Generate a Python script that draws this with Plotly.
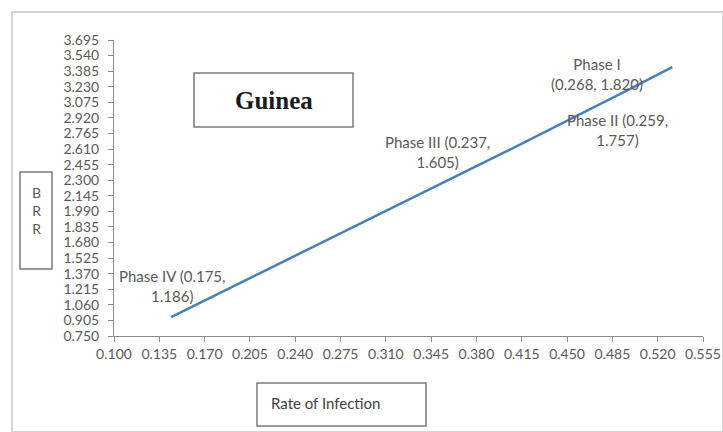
import plotly.graph_objects as go

# Phase data: rate of infection vs BRR
phases = ["Phase IV", "Phase III", "Phase II", "Phase I"]
rate = [0.175, 0.237, 0.259, 0.268]
brr = [1.186, 1.605, 1.757, 1.820]

x_ticks = ["0.100", "0.135", "0.170", "0.205", "0.240", "0.275", "0.310", "0.345",
           "0.380", "0.415", "0.450", "0.485", "0.520", "0.555"]
y_ticks = ["0.750", "0.905", "1.060", "1.215", "1.370", "1.525", "1.680", "1.835",
           "1.990", "2.145", "2.300", "2.455", "2.610", "2.765", "2.920", "3.075",
           "3.230", "3.385", "3.540", "3.695"]

W, H = 723, 432
ML, MR, MT, MB = 114, 20, 40, 96
PW, PH = W - ML - MR, H - MT - MB


def px(x):
    return (x - ML) / PW


def py(y):
    return (H - MB - y) / PH


TXT = "#595959"
FONT = "Lato"

fig = go.Figure()
# empty trace so the visible axis pair is drawn
fig.add_trace(go.Scatter(x=[], y=[], mode="lines", showlegend=False, hoverinfo="skip"))
fig.add_trace(go.Scatter(
    x=rate, y=brr, mode="lines", xaxis="x2", yaxis="y2",
    line=dict(color="#4A7EBB", width=2.5), showlegend=False, hoverinfo="skip",
))

label_text = [
    "Phase IV (0.175,<br>1.186)",
    "Phase III (0.237,<br>1.605)",
    "Phase II (0.259,<br>1.757)",
    "Phase I<br>(0.268, 1.820)",
]
label_shift = [(1, 31), (-68, 0), (-6, -38), (-75, -7)]
annotations = []
for xv, yv, t, (dx, dy) in zip(rate, brr, label_text, label_shift):
    annotations.append(dict(
        x=xv, y=yv, xref="x2", yref="y2", text=t, showarrow=False,
        xanchor="center", yanchor="middle",
        xshift=dx, yshift=dy, font=dict(family=FONT, size=15, color=TXT),
        align="center",
    ))

annotations += [
    dict(x=px(273.5), y=py(100), xref="paper", yref="paper", text="<b>Guinea</b>",
         showarrow=False, xanchor="center", yanchor="middle",
         font=dict(family="Liberation Serif", size=25, color="#1a1a1a")),
    dict(x=px(36), y=py(211), xref="paper", yref="paper", text="B<br>R<br>R",
         showarrow=False, xanchor="center", yanchor="middle",
         font=dict(family=FONT, size=14, color=TXT)),
    dict(x=px(269), y=py(403), xref="paper", yref="paper", text="Rate of Infection",
         showarrow=False, xanchor="left", yanchor="middle",
         font=dict(family=FONT, size=15, color="#404040")),
]

box = dict(type="rect", xref="paper", yref="paper", fillcolor="rgba(0,0,0,0)")
shapes = [
    dict(box, x0=px(12), x1=px(723), y0=py(12), y1=py(432),
         line=dict(color="#d4d4d4", width=2)),
    dict(box, x0=px(194), x1=px(353), y0=py(73), y1=py(127),
         line=dict(color="#7a7a7a", width=1.5)),
    dict(box, x0=px(20), x1=px(52), y0=py(172), y1=py(269),
         line=dict(color="#7a7a7a", width=1.5)),
    dict(box, x0=px(257), x1=px(426), y0=py(383), y1=py(426),
         line=dict(color="#7a7a7a", width=1.5)),
]

axis_common = dict(
    showgrid=False, zeroline=False, showline=True, linecolor="#8c8c8c", linewidth=1,
    ticks="outside", ticklen=5, tickcolor="#8c8c8c", automargin=False,
)

fig.update_layout(
    width=W, height=H, margin=dict(l=ML, r=MR, t=MT, b=MB),
    paper_bgcolor="white", plot_bgcolor="white",
    xaxis=dict(axis_common, range=[0.100, 0.555], tickmode="array",
               tickvals=[float(v) for v in x_ticks], ticktext=x_ticks,
               tickfont=dict(family=FONT, size=14, color=TXT)),
    yaxis=dict(axis_common, range=[0.750, 3.695], tickmode="array",
               tickvals=[float(v) for v in y_ticks], ticktext=y_ticks,
               tickfont=dict(family=FONT, size=14, color=TXT),
               ticklabelstandoff=6),
    xaxis2=dict(overlaying="x", range=[0.1644, 0.2737], visible=False),
    yaxis2=dict(overlaying="y", range=[1.138, 1.889], visible=False),
    annotations=annotations, shapes=shapes, showlegend=False,
)

fig.write_html("out.html")
